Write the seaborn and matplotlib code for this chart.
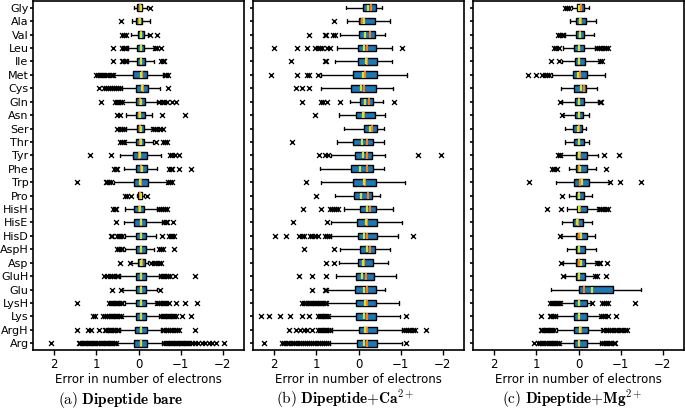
import numpy as np
import pandas as pd
import matplotlib
matplotlib.use('Agg')
import matplotlib.pyplot as plt
import seaborn as sns

RESIDUES = ['Gly', 'Ala', 'Val', 'Leu', 'Ile', 'Met', 'Cys', 'Gln', 'Asn', 'Ser',
            'Thr', 'Tyr', 'Phe', 'Trp', 'Pro', 'HisH', 'HisE', 'HisD', 'AspH', 'Asp',
            'GluH', 'Glu', 'LysH', 'Lys', 'ArgH', 'Arg']

# per residue: (left whisker, box left, median, box right, right whisker), in electrons
BARE_BOX = [
    (0.10, 0.04, -0.03, -0.09, -0.21), (0.16, 0.06, -0.02, -0.09, -0.28),
    (0.18, 0.02, -0.06, -0.12, -0.23), (0.26, 0.04, -0.06, -0.13, -0.37),
    (0.26, 0.04, -0.06, -0.15, -0.37), (0.57, 0.12, -0.08, -0.20, -0.59),
    (0.38, 0.05, -0.11, -0.23, -0.51), (0.38, 0.07, -0.03, -0.16, -0.45),
    (0.30, 0.07, -0.02, -0.16, -0.33), (0.30, 0.04, -0.03, -0.12, -0.32),
    (0.31, 0.06, -0.03, -0.14, -0.35), (0.44, 0.12, -0.02, -0.20, -0.53),
    (0.35, 0.06, -0.06, -0.20, -0.43), (0.57, 0.10, -0.06, -0.23, -0.68),
    (0.04, 0.02, -0.04, -0.09, -0.12), (0.31, 0.10, -0.02, -0.13, -0.43),
    (0.35, 0.10, -0.06, -0.18, -0.56), (0.33, 0.05, -0.06, -0.18, -0.41),
    (0.33, 0.07, -0.06, -0.18, -0.37), (0.18, 0.01, -0.08, -0.15, -0.23),
    (0.45, 0.07, -0.06, -0.18, -0.49), (0.38, 0.07, -0.06, -0.18, -0.44),
    (0.33, 0.07, -0.06, -0.18, -0.41), (0.38, 0.07, -0.06, -0.18, -0.49),
    (0.45, 0.08, -0.06, -0.20, -0.53), (0.50, 0.10, -0.06, -0.20, -0.56),
]
BARE_MEAN = [-0.05, -0.03, -0.05, -0.05, -0.05, -0.05, -0.08, -0.05, -0.04, -0.05,
             -0.05, -0.03, -0.08, -0.04, -0.05, -0.03, -0.05, -0.05, -0.05, -0.06,
             -0.05, -0.05, -0.05, -0.05, -0.05, -0.05]
BARE_OUT = [
    [-0.28],
    [0.42],
    [0.38, 0.34, 0.30, -0.28, -0.44],
    [0.61, 0.38, 0.35, 0.32, 0.29, -0.40, -0.43, -0.53],
    [0.61, 0.40, 0.36, 0.33, 0.30, -0.53, -0.57, -0.60],
    [1.00, 0.96, 0.92, 0.88, 0.83, 0.78, 0.72, 0.66, 0.60, -0.62, -0.66, -0.71],
    [0.93, 0.82, 0.77, 0.73, 0.68, 0.63, 0.58, 0.53, 0.48, 0.43, -0.71],
    [0.89, 0.56, 0.52, 0.48, 0.44, 0.40, -0.49, -0.56, -0.61, -0.68, -0.80, -0.90],
    [0.50, 0.44, -0.55, -1.10],
    [0.50, 0.45, 0.40, 0.35, -0.35, -0.40, -0.45, -0.50, -0.58],
    [0.45, 0.40, 0.34, -0.41, -0.58, -0.63, -0.68],
    [1.16, 0.64, -0.74, -0.80, -0.86, -0.96],
    [0.58, 0.54, 0.50, -0.72, -0.76, -0.80, -0.96, -1.25],
    [1.46, 0.78, 0.74, 0.70, 0.65, -0.71, -0.75, -0.80],
    [0.33, 0.27, 0.17, -0.20],
    [0.60, 0.56, 0.53, -0.48, -0.53, -0.58, -0.62, -0.68],
    [0.53, -0.60, -0.64, -0.68, -0.82],
    [0.66, 0.62, 0.51, 0.47, 0.43, 0.38, -0.56, -0.72, -0.76, -0.80, -0.84],
    [0.50, 0.46, 0.42, 0.38, -0.49, -0.53, -0.58, -0.84],
    [0.44, 0.21, -0.30, -0.36, -0.42, -0.48, -0.54],
    [0.81, 0.74, 0.68, 0.62, 0.57, 0.52, 0.48, -0.53, -0.57, -0.61, -0.65, -0.70,
     -0.75, -0.86, -1.34],
    [0.62, 0.42, -0.51],
    [1.45, 0.70, 0.66, 0.62, 0.58, 0.54, 0.50, 0.46, 0.42, 0.38, -0.45, -0.49, -0.53,
     -0.57, -0.61, -0.66, -0.72, -0.88, -1.10, -1.39],
    [1.08, 1.04, 0.85, 0.80, 0.75, 0.70, 0.66, 0.62, 0.58, 0.54, 0.50, 0.46, 0.42,
     -0.53, -0.57, -0.61, -0.65, -0.69, -0.73, -0.77, -0.81, -0.85, -0.88, -1.02, -1.24],
    [1.45, 1.20, 1.12, 0.93, 0.80, 0.76, 0.72, 0.68, 0.64, 0.60, 0.56, 0.52, 0.48,
     -0.57, -0.61, -0.65, -0.70, -0.75, -0.80, -0.86, -0.91, -0.96, -1.34],
    [2.08, 1.42, 1.38, 1.34, 1.30, 1.26, 1.22, 1.18, 1.14, 1.10, 1.06, 1.02, 0.98,
     0.94, 0.90, 0.86, 0.82, 0.78, 0.74, 0.70, 0.66, 0.62, 0.58, 0.54, -0.60, -0.64,
     -0.68, -0.72, -0.76, -0.80, -0.84, -0.88, -0.92, -0.96, -1.00, -1.04, -1.08,
     -1.12, -1.16, -1.20, -1.26, -1.34, -1.42, -1.50, -1.58, -1.66, -1.74, -1.83, -2.02],
]

CA_BOX = [
    (0.29, -0.10, -0.30, -0.41, -0.55), (0.27, 0.00, -0.09, -0.38, -0.74),
    (0.45, -0.02, -0.27, -0.39, -0.63), (0.50, 0.02, -0.21, -0.41, -0.80),
    (0.55, 0.02, -0.20, -0.44, -0.80), (0.90, 0.13, -0.16, -0.43, -1.14),
    (0.88, 0.18, -0.12, -0.42, -0.82), (0.20, -0.04, -0.25, -0.35, -0.59),
    (0.47, 0.06, -0.12, -0.38, -0.63), (0.34, -0.12, -0.31, -0.43, -0.60),
    (0.50, 0.12, -0.20, -0.35, -0.60), (0.65, 0.08, -0.20, -0.31, -0.63),
    (0.92, 0.18, -0.20, -0.35, -0.60), (0.90, 0.14, -0.16, -0.41, -1.10),
    (0.55, 0.10, -0.22, -0.31, -0.50), (0.35, -0.04, -0.27, -0.41, -0.81),
    (0.65, 0.04, -0.21, -0.43, -1.02), (0.66, 0.02, -0.20, -0.43, -0.93),
    (0.43, -0.04, -0.27, -0.39, -0.74), (0.47, 0.02, -0.14, -0.34, -0.69),
    (0.53, 0.05, -0.18, -0.37, -0.88), (0.74, 0.08, -0.20, -0.41, -0.63),
    (0.74, 0.05, -0.20, -0.42, -0.97), (0.70, 0.05, -0.20, -0.41, -0.98),
    (0.63, 0.00, -0.21, -0.43, -1.04), (0.67, 0.04, -0.20, -0.43, -1.02),
]
CA_MEAN = [-0.22, -0.14, -0.16, -0.12, -0.18, -0.10, -0.06, -0.16, -0.10, -0.27,
           -0.08, -0.10, -0.04, -0.14, -0.06, -0.20, -0.18, -0.14, -0.20, -0.10,
           -0.08, -0.12, -0.16, -0.12, -0.16, -0.14]
CA_OUT = [
    [],
    [0.59],
    [1.18, 0.80, 0.76, 0.60, 0.56],
    [2.00, 1.45, 1.21, 1.02, 0.97, 0.92, 0.86, 0.75, 0.68, -1.04],
    [1.61, 0.80, 0.76],
    [2.08, 1.45, 1.22, 1.18, 0.96],
    [1.49, 1.33, 1.18],
    [1.33, 0.90, 0.84, 0.74, 0.43, -0.84],
    [1.03],
    [],
    [1.57],
    [0.94, 0.80, 0.72, -1.41, -1.96],
    [],
    [1.25],
    [1.00],
    [1.31, 0.90, 0.68, 0.63, 0.58, 0.53, 0.48],
    [1.55, 0.74],
    [1.98, 1.72, 1.41, 1.35, 1.29, 1.14, 1.10, 1.04, 0.96, 0.80, 0.75, 0.69, -1.28],
    [1.28, 0.57],
    [0.78, 0.57],
    [1.41, 1.10, 0.78],
    [1.10, 0.80, 0.77],
    [1.33, 1.30, 1.27, 1.24, 1.20, 1.16, 1.12, 1.08, 1.04, 1.00, 0.96, 0.92, 0.88,
     0.84, 0.80, 0.77],
    [2.30, 2.12, 1.86, 1.62, 1.33, 1.18, 0.96, 0.92, 0.88, 0.84, 0.80, 0.76, 0.72, -1.12],
    [1.64, 1.49, 1.38, 1.30, 1.22, 1.10, 0.96, 0.92, 0.88, 0.84, 0.80, 0.76, 0.72,
     0.67, -1.08, -1.13, -1.18, -1.23, -1.28, -1.33, -1.61],
    [2.24, 1.82, 1.76, 1.70, 1.64, 1.58, 1.53, 1.48, 1.42, 1.37, 1.32, 1.27, 1.22,
     1.17, 1.12, 1.07, 1.02, 0.97, 0.92, 0.87, 0.82, 0.77, 0.72, -1.12],
]

MG_BOX = [
    (0.16, 0.04, -0.05, -0.12, -0.26), (0.21, 0.06, -0.06, -0.18, -0.42),
    (0.32, 0.06, -0.04, -0.14, -0.36), (0.36, 0.10, -0.02, -0.13, -0.40),
    (0.40, 0.09, -0.02, -0.15, -0.48), (0.63, 0.14, -0.04, -0.20, -0.62),
    (0.42, 0.10, -0.12, -0.18, -0.44), (0.40, 0.08, -0.02, -0.14, -0.46),
    (0.37, 0.08, -0.02, -0.11, -0.25), (0.33, 0.12, 0.00, -0.08, -0.17),
    (0.33, 0.10, -0.02, -0.12, -0.26), (0.41, 0.06, -0.04, -0.19, -0.46),
    (0.23, 0.06, -0.02, -0.19, -0.41), (0.53, 0.10, -0.04, -0.25, -0.73),
    (0.23, 0.06, -0.02, -0.14, -0.32), (0.27, 0.04, -0.04, -0.19, -0.46),
    (0.39, 0.12, 0.02, -0.11, -0.32), (0.41, 0.06, -0.02, -0.20, -0.38),
    (0.27, 0.06, -0.02, -0.16, -0.41), (0.36, 0.06, -0.02, -0.16, -0.42),
    (0.32, 0.06, -0.02, -0.16, -0.38), (0.66, 0.00, -0.12, -0.82, -1.47),
    (0.42, 0.10, -0.02, -0.19, -0.30), (0.52, 0.10, -0.02, -0.19, -0.51),
    (0.52, 0.10, -0.06, -0.22, -0.55), (0.43, 0.10, -0.02, -0.19, -0.51),
]
MG_MEAN = [-0.02, -0.04, -0.03, 0.00, 0.00, 0.02, -0.07, 0.00, 0.00, 0.02,
           0.00, -0.02, -0.04, -0.08, -0.02, -0.02, 0.04, -0.06, 0.00, -0.05,
           0.00, -0.32, 0.00, 0.00, -0.03, 0.00]
MG_OUT = [
    [0.31, 0.27, 0.22],
    [],
    [0.49, 0.44, 0.40, 0.36],
    [0.58, 0.53, 0.46, -0.44, -0.49, -0.54, -0.60, -0.66, -0.71],
    [0.66, 0.46, -0.50, -0.56],
    [1.19, 1.00, 0.86, 0.80, 0.75, 0.70],
    [],
    [0.45, -0.50, -0.53],
    [0.40],
    [],
    [],
    [0.49, 0.45, 0.43, -0.61, -0.97],
    [0.63, 0.57, 0.52, -0.65],
    [1.17, -0.75, -0.99, -1.47],
    [0.38],
    [0.74, 0.41, -0.49, -0.53, -0.58, -0.64, -0.71],
    [],
    [0.43],
    [],
    [0.42, -0.44, -0.48, -0.50, -0.67],
    [0.36, -0.40, -0.44, -0.64],
    [],
    [0.67, 0.63, 0.60, 0.56, 0.52, 0.48, 0.44, -0.33, -0.56, -0.61, -0.66, -0.71, -1.33],
    [0.90, 0.67, 0.64, 0.60, 0.56, -0.53, -0.58, -0.63, -0.71, -0.90],
    [0.90, 0.86, 0.82, 0.78, 0.74, 0.70, 0.66, 0.62, 0.58, -0.59, -0.64, -0.69,
     -0.74, -0.80, -0.86, -0.92, -0.98, -1.04, -1.10, -1.15],
    [1.05, 0.95, 0.91, 0.87, 0.83, 0.79, 0.75, 0.71, 0.67, 0.63, 0.59, 0.55, 0.51,
     0.47, -0.56, -0.60, -0.64, -0.68, -0.72, -0.78, -0.84, -0.87],
]

CAPTIONS = [r'$\mathrm{(a)\ }\mathbf{Dipeptide\ bare}$',
            r'$\mathrm{(b)\ }\mathbf{Dipeptide{+}Ca^{2+}}$',
            r'$\mathrm{(c)\ }\mathbf{Dipeptide{+}Mg^{2+}}$']
XLABEL = 'Error in number of electrons'
XTICKS = [2, 1, 0, -1, -2]

sns.set_style('ticks', rc={'axes.edgecolor': 'black', 'xtick.color': 'black',
                           'ytick.color': 'black', 'text.color': 'black',
                           'axes.labelcolor': 'black'})
plt.rcParams['font.family'] = ['DejaVu Sans']
plt.rcParams['mathtext.fontset'] = 'cm'


def long_frame(groups):
    rows = [(r, v) for r, vals in zip(RESIDUES, groups) for v in vals]
    return pd.DataFrame(rows, columns=['res', 'err'])


fig = plt.figure(figsize=(6.85, 4.09), dpi=100)
W, H = 685.0, 409.0
lefts = [33, 253, 473]
cap_x = [121, 345, 572]
panels = [(BARE_BOX, BARE_MEAN, BARE_OUT), (CA_BOX, CA_MEAN, CA_OUT), (MG_BOX, MG_MEAN, MG_OUT)]

for i, (box, mean, out) in enumerate(panels):
    ax = fig.add_axes([lefts[i] / W, (H - 350) / H, 211 / W, 349 / H])
    sns.boxplot(data=long_frame(box), x='err', y='res', order=RESIDUES, orient='h',
                whis=(0, 100), showfliers=False, width=0.5, color='#1f77b4',
                saturation=1, linecolor='black', linewidth=1,
                medianprops=dict(color='#ff7f0e', linewidth=1.5), ax=ax)
    sns.stripplot(data=long_frame(out), x='err', y='res', order=RESIDUES, orient='h',
                  jitter=False, marker='x', color='black', size=3.5, linewidth=1,
                  zorder=4, ax=ax)
    sns.stripplot(data=long_frame([[m] for m in mean]), x='err', y='res', order=RESIDUES,
                  orient='h', jitter=False, marker='|', color='#cfe33a', size=4.5,
                  linewidth=1.6, zorder=5, ax=ax)
    ax.set_xlim(2.5, -2.5)
    ax.set_ylim(25.5, -0.5)
    ax.set_xticks(XTICKS)
    ax.set_xlabel(XLABEL, fontsize=8.5, labelpad=2)
    ax.set_ylabel('')
    ax.tick_params(axis='x', labelsize=8.5, length=3.5, width=1, pad=2)
    ax.tick_params(axis='y', labelsize=8, length=2, width=1.2, pad=1.2)
    if i > 0:
        ax.tick_params(axis='y', labelleft=False)
    for s in ax.spines.values():
        s.set_linewidth(1.2)
    fig.text(cap_x[i] / W, 5.5 / H, CAPTIONS[i], ha='center', va='baseline', fontsize=11)

fig.savefig('out.png', dpi=100)
